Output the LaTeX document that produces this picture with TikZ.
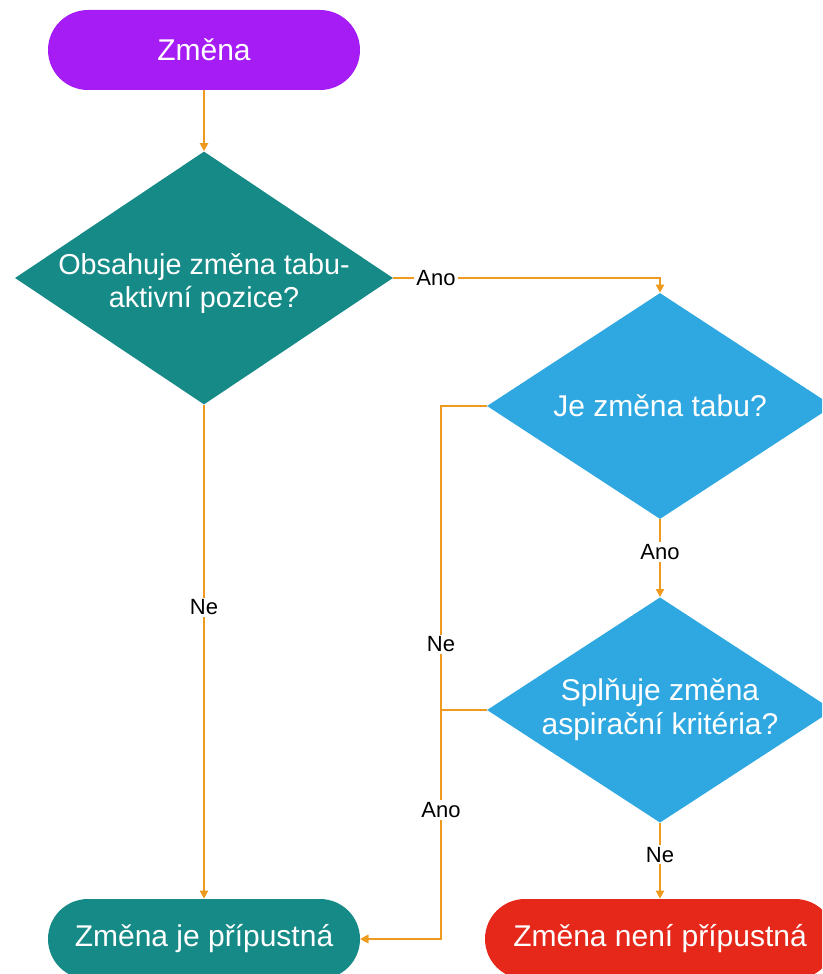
\documentclass[tikz,border=0pt]{standalone}
\usepackage{fontspec}
\setmainfont{Liberation Sans}
\usetikzlibrary{shapes.geometric,shapes.misc,arrows.meta}

\definecolor{cPurple}{HTML}{A61CF4}
\definecolor{cTeal}{HTML}{168A87}
\definecolor{cBlue}{HTML}{2FA8E1}
\definecolor{cRed}{HTML}{E52819}
\definecolor{cLine}{HTML}{EE9A1E}

\begin{document}
\begin{tikzpicture}[x=0.75pt,y=-0.75pt,
  box/.style={font=\fontsize{22.5pt}{25.5pt}\selectfont, text=white, inner sep=0pt},
  pill/.style={box, rounded rectangle, minimum height=60pt},
  decision/.style={box, diamond, align=center},
  flow/.style={draw=cLine, line width=1.5pt, -{Triangle[length=6pt,width=6pt]}},
  lbl/.style={fill=white, text=black, font=\fontsize{16.5pt}{18pt}\selectfont, inner sep=1.5pt}
]
\clip (0,0) rectangle (822,974);

% shapes
\node[pill, fill=cPurple, minimum width=234pt] (start) at (204,50) {Změna};
\node[decision, fill=cTeal, minimum width=283.5pt, minimum height=189.75pt,
      font=\fontsize{21.6pt}{25pt}\selectfont] (d1) at (204,278)
  {\makebox[0pt]{\rule{0pt}{24pt}Obsahuje změna tabu-}\\\makebox[0pt]{aktivní pozice?}};
\node[decision, fill=cBlue, minimum width=259.5pt, minimum height=169.5pt] (d2) at (660,406)
  {\makebox[0pt]{Je změna tabu?}};
\node[decision, fill=cBlue, minimum width=259.5pt, minimum height=169pt] (d3) at (660,710)
  {\makebox[0pt]{Splňuje změna}\\\makebox[0pt]{aspirační kritéria?}};
\node[pill, fill=cTeal, minimum width=234pt] (ok) at (204,939) {Změna je přípustná};
\node[pill, fill=cRed, minimum width=262.5pt] (no) at (660,939) {Změna není přípustná};

\coordinate (bus) at (441,939);

% connectors
\draw[flow] (start.south) -- (d1.north);
\draw[flow] (d1.east) -| node[lbl, pos=0.08] {Ano} (d2.north);
\draw[flow] (d2.south) -- node[lbl, pos=0.42] {Ano} (d3.north);
\draw[flow] (d3.south) -- node[lbl, pos=0.42] {Ne} (no.north);
\draw[flow] (d1.south) -- node[lbl, pos=0.41] {Ne} (ok.north);
\draw[flow] (d2.west) -- (d2.west -| bus) -- node[lbl, pos=0.447] {Ne} (bus) -- (ok.east);
\draw[flow] (d3.west) -- (d3.west -| bus) -- node[lbl, pos=0.437] {Ano} (bus) -- (ok.east);
\end{tikzpicture}
\end{document}
